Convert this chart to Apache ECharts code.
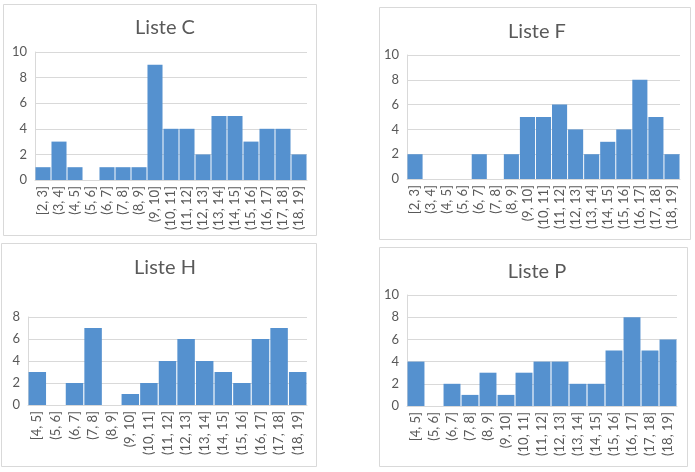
<!DOCTYPE html>
<html>
<head>
<meta charset="utf-8">
<script src="https://cdn.jsdelivr.net/npm/echarts@6/dist/echarts.min.js"></script>
<style>
html,body{margin:0;padding:0;background:#fff;}
#c{width:695px;height:472px;}
</style>
</head>
<body>
<div id="c"></div>
<script>
const catsCF = ['[2, 3]','(3, 4]','(4, 5]','(5, 6]','(6, 7]','(7, 8]','(8, 9]','(9, 10]','(10, 11]','(11, 12]','(12, 13]','(13, 14]','(14, 15]','(15, 16]','(16, 17]','(17, 18]','(18, 19]'];
const catsHP = ['[4, 5]','(5, 6]','(6, 7]','(7, 8]','(8, 9]','(9, 10]','(10, 11]','(11, 12]','(12, 13]','(13, 14]','(14, 15]','(15, 16]','(16, 17]','(17, 18]','(18, 19]'];
const valuesC = [1,3,1,0,1,1,1,9,4,4,2,5,5,3,4,4,2];
const valuesF = [2,0,0,0,2,0,2,5,5,6,4,2,3,4,8,5,2];
const valuesH = [3,0,2,7,0,1,2,4,6,4,3,2,6,7,3];
const valuesP = [4,0,2,1,3,1,3,4,4,2,2,5,8,5,6];
const titles = ['Liste C','Liste F','Liste H','Liste P'];
const yMax = [10,10,8,10];

const FONT = 'Lato, "Open Sans", sans-serif';
const panels = [
  {box:[3,4,313,231], grid:{left:35,top:52,width:272,height:128}, title:[160,25], cats:catsCF, vals:valuesC},
  {box:[379,7,311,232], grid:{left:407,top:55,width:273,height:124}, title:[532,29], cats:catsCF, vals:valuesF},
  {box:[1,243,315,223], grid:{left:28,top:317,width:279,height:88}, title:[160,265], cats:catsHP, vals:valuesH},
  {box:[379,247,308,219], grid:{left:407,top:295,width:270,height:111}, title:[532,269], cats:catsHP, vals:valuesP}
];

const chart = echarts.init(document.getElementById('c'));
const option = {
  animation:false,
  backgroundColor:'#fff',
  title: panels.map((p,i)=>({
    text:titles[i], left:p.title[0], top:p.title[1]-12, textAlign:'center',
    textStyle:{fontFamily:FONT,fontSize:20,fontWeight:'normal',color:'#595959'}
  })),
  graphic: panels.map(p=>({
    type:'rect', shape:{x:p.box[0]+0.5,y:p.box[1]+0.5,width:p.box[2],height:p.box[3]},
    style:{fill:'none',stroke:'#d9d9d9',lineWidth:1}, silent:true
  })),
  grid: panels.map(p=>Object.assign({containLabel:false}, p.grid)),
  xAxis: panels.map((p,i)=>({
    type:'category', gridIndex:i, data:p.cats,
    axisLine:{show:true,lineStyle:{color:'#d9d9d9'}},
    axisTick:{show:false},
    axisLabel:{rotate:90,interval:0,fontFamily:FONT,fontSize:13,color:'#595959',margin:6}
  })),
  yAxis: panels.map((p,i)=>({
    type:'value', gridIndex:i, min:0, max:yMax[i], interval:2,
    axisLine:{show:true,lineStyle:{color:'#d9d9d9'}},
    axisTick:{show:false},
    splitLine:{show:true,lineStyle:{color:'#d9d9d9'}},
    axisLabel:{fontFamily:FONT,fontSize:13,color:'#595959',margin:8}
  })),
  series: panels.map((p,i)=>({
    type:'bar', xAxisIndex:i, yAxisIndex:i, data:p.vals,
    barCategoryGap:'6%',
    itemStyle:{color:'#5591cf'}
  }))
};
chart.setOption(option);
</script>
</body>
</html>
